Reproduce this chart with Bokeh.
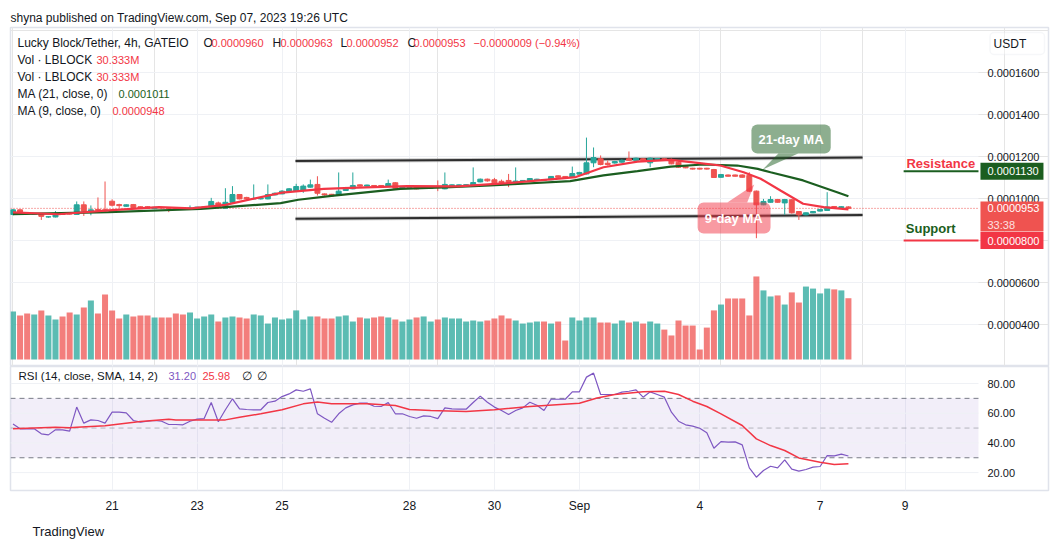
from bokeh.plotting import figure
from bokeh.layouts import column
from bokeh.models import (Range1d, FixedTicker, Label, BoxAnnotation, ColumnDataSource, Grid, Title)
from bokeh.embed import file_html
from bokeh.resources import INLINE
from bokeh.core.properties import value

SCALE = 1e-7  # prices below are stored in units of 1e-7 USDT

opens = [924, 946, 930, 925, 926, 912, 912, 926, 928, 924, 970, 940, 948, 946, 987, 971, 963, 971, 961, 961,
         952, 957, 955, 954, 953, 951, 955, 957, 959, 979, 954, 982, 1019, 1005, 998, 998, 998, 1017, 1022, 1033,
         1035, 1040, 1054, 1067, 1022, 1020, 1017, 1038, 1046, 1065, 1059, 1062, 1062, 1057, 1075, 1049, 1050, 1055, 1049, 1049,
         1057, 1046, 1060, 1060, 1060, 1057, 1079, 1092, 1089, 1082, 1086, 1067, 1081, 1084, 1086, 1090, 1089, 1108, 1105, 1100,
         1116, 1117, 1170, 1189, 1168, 1169, 1173, 1189, 1182, 1189, 1170, 1187, 1189, 1186, 1173, 1154, 1144, 1144, 1144, 1138,
         1101, 1112, 1112, 1112, 1110, 1035, 970, 982, 995, 979, 994, 938, 922, 932, 940, 943, 962, 955, 960]
highs = [950, 948, 934, 930, 928, 916, 940, 930, 931, 986, 986, 967, 1005, 1081, 996, 975, 972, 974, 963, 963,
         960, 960, 957, 957, 955, 967, 960, 962, 1003, 985, 1049, 1059, 1021, 1008, 1067, 1004, 1067, 1029, 1040, 1050,
         1070, 1067, 1090, 1106, 1024, 1022, 1124, 1055, 1124, 1067, 1066, 1064, 1063, 1090, 1078, 1057, 1055, 1057, 1056, 1056,
         1086, 1124, 1067, 1067, 1068, 1148, 1095, 1095, 1098, 1090, 1117, 1148, 1088, 1097, 1094, 1092, 1107, 1110, 1107, 1152,
         1127, 1290, 1243, 1205, 1181, 1179, 1186, 1224, 1195, 1192, 1195, 1192, 1191, 1190, 1176, 1157, 1146, 1146, 1146, 1141,
         1117, 1114, 1114, 1115, 1125, 1038, 998, 1011, 998, 998, 997, 940, 934, 940, 950, 1030, 964, 963, 963]
lows = [920, 922, 924, 922, 898, 908, 910, 922, 924, 922, 917, 920, 940, 932, 962, 955, 960, 955, 950, 950,
        950, 952, 935, 950, 949, 950, 952, 955, 957, 953, 952, 980, 996, 995, 996, 995, 996, 1015, 1020, 1031,
        1033, 1027, 1052, 1014, 1014, 1010, 1015, 1036, 1044, 1057, 1057, 1058, 1058, 1055, 1046, 1047, 1048, 1044, 1047, 1047,
        1035, 1044, 1058, 1058, 1058, 1055, 1077, 1080, 1073, 1072, 1054, 1064, 1079, 1082, 1084, 1085, 1087, 1099, 1098, 1098,
        1114, 1115, 1149, 1158, 1157, 1166, 1170, 1179, 1180, 1180, 1149, 1185, 1180, 1163, 1146, 1144, 1138, 1138, 1138, 1098,
        1099, 1104, 1104, 1099, 1030, 811, 968, 980, 980, 922, 928, 898, 920, 930, 938, 941, 957, 953, 952]
closes = [946, 925, 927, 928, 915, 913, 926, 924, 926, 970, 940, 946, 944, 942, 968, 966, 970, 957, 952, 954,
          958, 955, 953, 952, 951, 955, 959, 960, 986, 959, 982, 1019, 998, 998, 1000, 1001, 1019, 1025, 1035, 1046,
          1057, 1059, 1065, 1025, 1017, 1012, 1035, 1052, 1062, 1059, 1064, 1060, 1060, 1071, 1049, 1055, 1053, 1046, 1054, 1054,
          1052, 1067, 1065, 1065, 1066, 1076, 1092, 1084, 1075, 1075, 1067, 1083, 1086, 1095, 1092, 1087, 1105, 1101, 1100, 1119,
          1124, 1170, 1195, 1162, 1162, 1176, 1182, 1182, 1192, 1182, 1192, 1190, 1182, 1165, 1149, 1146, 1140, 1140, 1140, 1100,
          1114, 1106, 1106, 1101, 1035, 970, 986, 995, 982, 995, 932, 922, 932, 938, 948, 959, 959, 961, 953]
volumes_m = [23.7, 21.8, 22.8, 22.3, 24.3, 21.8, 19.8, 21.3, 23.3, 22.3,
             25.7, 29.2, 22.8, 32.2, 24.3, 20.3, 22.3, 21.3, 21.8, 21.8,
             20.8, 20.8, 20.8, 22.8, 22.3, 23.3, 20.3, 21.3, 22.3, 18.8,
             20.8, 21.3, 20.8, 20.3, 22.3, 21.8, 17.8, 20.8, 19.8, 20.3,
             24.3, 19.8, 21.3, 21.3, 20.3, 20.3, 21.3, 21.8, 18.8, 20.8,
             20.3, 20.8, 21.3, 20.8, 19.8, 18.8, 19.8, 20.8, 21.3, 18.8,
             19.8, 20.8, 20.3, 20.3, 18.8, 19.3, 18.8, 19.3, 20.3, 21.8,
             20.3, 19.3, 17.8, 18.3, 18.8, 18.8, 17.8, 18.8, 9.4, 20.8,
             19.3, 20.8, 20.8, 18.3, 18.3, 17.8, 19.3, 18.3, 18.8, 17.8,
             18.8, 17.8, 14.8, 11.9, 19.3, 16.8, 16.8, 4.95, 15.8, 24.3,
             27.2, 30.2, 30.2, 30.2, 21.8, 41.1, 34.2, 31.2, 31.7, 27.2,
             33.2, 28.2, 36.1, 35.1, 32.7, 35.1, 34.7, 34.2, 30.333]
rsi = [52.8, 49.5, 49.5, 49.5, 46.1, 45.4, 48.8, 48.8, 47.9, 64.1, 53.3, 55.5, 55.1, 53.3, 60.7, 60.7, 60.2, 55.1, 54.0, 54.6,
       55.1, 54.6, 52.4, 52.4, 52.2, 54.6, 56.0, 56.4, 67.2, 54.2, 62.3, 69.7, 62.9, 62.5, 62.3, 62.3, 67.2, 68.1, 71.2, 73.0,
       75.7, 74.8, 76.4, 59.6, 56.6, 53.9, 59.6, 63.6, 65.6, 66.8, 66.8, 64.7, 64.5, 67.2, 59.6, 59.6, 57.8, 56.6, 58.2, 57.8,
       56.4, 63.6, 62.9, 62.7, 62.7, 67.2, 71.5, 67.4, 64.1, 61.8, 59.1, 61.8, 63.6, 67.4, 65.4, 61.8, 69.4, 69.4, 69.4, 74.4,
       74.4, 84.3, 87.0, 72.6, 72.6, 72.6, 74.2, 74.8, 75.7, 70.8, 74.4, 72.6, 70.8, 60.7, 54.6, 52.2, 51.3, 49.9, 46.8, 36.4,
       40.9, 40.5, 40.7, 38.7, 23.2, 16.9, 21.4, 24.3, 23.2, 28.6, 22.3, 21.0, 22.1, 23.7, 24.1, 31.5, 31.3, 32.4, 31.2]
rsi_ma_idx = [0, 6, 8, 9, 13, 18, 22, 23, 26, 30, 32, 35, 38, 41, 43, 45, 48, 50, 54, 56, 59, 64, 68, 73, 80,
              82.5, 85, 89, 92, 94, 96, 98, 100, 103, 105, 107, 109, 111, 114, 116, 118]
rsi_ma = [49.5, 50.6, 50.2, 50.6, 51.5, 54.4, 56.0, 55.5, 55.5, 55.5, 57.3, 59.6, 62.3, 66.3, 67.6, 66.3, 66.3, 66.3,
          65.2, 62.5, 61.8, 61.1, 62.3, 64.5, 66.7, 70.3, 72.6, 74.4, 74.8, 72.6, 68.1, 64.5, 59.6, 51.7, 42.7, 38.2,
          34.9, 29.9, 27.0, 25.4, 26.0]
ma21_idx = [0, 13.5, 26.5, 30, 37.8, 40.3, 45.3, 54.7, 61.8, 67.4, 78.7, 83.4, 88.2, 92.9, 97.5, 102.3, 105.2,
            107, 111.6, 116.4, 118]
ma21 = [926, 935, 950, 959, 978, 994, 1014, 1046, 1054, 1062, 1083, 1110, 1130, 1152, 1162, 1157, 1141, 1125,
        1086, 1030, 1011]
ma9_idx = [0, 6.4, 13.5, 20.6, 25.2, 30, 38, 43.9, 48.7, 55.7, 62.8, 69.8, 79.5, 83.4, 88.2, 92.9, 96.7, 99.9,
           103.2, 105.6, 108.4, 111.6, 114.5, 118]
ma9 = [934, 925, 943, 959, 953, 970, 1028, 1046, 1052, 1059, 1058, 1073, 1102, 1149, 1176, 1184, 1170, 1157,
       1125, 1094, 1038, 975, 959, 948]

day_ticks = [14, 26, 38, 56, 68, 80, 97, 114, 126]
day_labels = ["21", "23", "25", "28", "30", "Sep", "4", "7", "9"]
price_ticks = [400, 600, 800, 1000, 1200, 1400, 1600]
rsi_ticks = [20, 40, 60, 80]
resistance_level = 1130
support_level = 800
last_price = 953
upper_channel_x, upper_channel_y = [39.9, 120.0], [1178.6, 1195.0]
lower_channel_x, lower_channel_y = [39.9, 120.0], [903.0, 921.0]

TEAL = "#26A69A"
RED = "#EF5350"
TVRED = "#F23645"
DKGREEN = "#1B5E20"
GRID = "#EFF1F5"
TXT = "#131722"
FONT = "Liberation Sans"
F = value(FONT)

n = len(closes)
idx = list(range(n))
colors = [TEAL if c >= o else RED for o, c in zip(opens, closes)]
src = ColumnDataSource(dict(
    x=idx,
    h=[v * SCALE for v in highs], l=[v * SCALE for v in lows],
    top=[max(o, c) * SCALE for o, c in zip(opens, closes)],
    bottom=[min(o, c) * SCALE for o, c in zip(opens, closes)],
    color=colors, vol=volumes_m))

# x: bar index; the plotting area ends at XPLOT, the price scale occupies XPLOT..X1
X0, XPLOT, X1 = -0.353, 136.37, 146.26
XLAB = 137.64          # left edge of scale labels
XTAG = 141.1           # centre of scale tags
xr = Range1d(X0, X1)

# ---------------- main pane ----------------
p = figure(width=1059, height=366, x_range=xr, y_range=Range1d(200 * SCALE, 1814.3 * SCALE),
           output_backend="svg", toolbar_location=None, x_axis_location=None, y_axis_location=None,
           min_border_left=10, min_border_right=11, min_border_top=27, min_border_bottom=0,
           background_fill_color="white", border_fill_color="white", outline_line_color="#E0E3EB",
           outline_line_width=1.5)
p.title.text = "shyna published on TradingView.com, Sep 07, 2023 19:26 UTC"
p.title.text_font = FONT
p.title.text_font_size = "12px"
p.title.text_font_style = "normal"
p.title.text_color = TXT
p.title.align = "left"
p.title.standoff = 6
p.extra_y_ranges = {"vol": Range1d(-3.46, 164.3)}
p.add_layout(Grid(dimension=0, ticker=FixedTicker(ticks=day_ticks), grid_line_color=GRID))

pt = [t * SCALE for t in price_ticks]
p.segment(x0=[X0] * len(pt), y0=pt, x1=[XPLOT] * len(pt), y1=pt, color=GRID, line_width=1)
p.text(x=[XLAB] * len(pt), y=pt, text=["%.7f" % v for v in pt], text_font=F, text_font_size="11px",
       text_color=TXT, text_align="left", text_baseline="middle")

p.vbar(x="x", width=0.85, top="vol", bottom=0, fill_color="color", line_color=None, fill_alpha=0.75,
       y_range_name="vol", source=src)

for cx, cy in [(upper_channel_x, upper_channel_y), (lower_channel_x, lower_channel_y)]:
    p.line(cx, [v * SCALE for v in cy], color="#888888", line_width=4, line_alpha=0.45)
    p.line(cx, [v * SCALE for v in cy], color="#2E2E2E", line_width=2)

p.segment(x0=[X0], y0=[last_price * SCALE], x1=[XPLOT], y1=[last_price * SCALE], color=RED,
          line_dash="1 2", line_width=1)

p.segment(x0="x", y0="l", x1="x", y1="h", color="color", line_width=1, source=src)
p.vbar(x="x", width=0.7, top="top", bottom="bottom", fill_color="color", line_color="color", source=src)

p.line(ma21_idx, [v * SCALE for v in ma21], color=DKGREEN, line_width=2.2)
p.line(ma9_idx, [v * SCALE for v in ma9], color=TVRED, line_width=2.2)

# resistance / support marks
p.line([125.8, XPLOT], [resistance_level * SCALE] * 2, color=DKGREEN, line_width=2)
p.line([125.8, XPLOT], [support_level * SCALE] * 2, color=TVRED, line_width=2)
p.text(x=[126.2], y=[1166.7 * SCALE], text=["Resistance"], text_color=TVRED, text_font=F,
       text_font_style="bold", text_font_size="13px", text_baseline="middle", text_align="left")
p.text(x=[126.1], y=[857 * SCALE], text=["Support"], text_color=DKGREEN, text_font=F,
       text_font_style="bold", text_font_size="13px", text_baseline="middle", text_align="left")

# tags on the price scale
p.rect(x=[XTAG] * 3, y=[resistance_level * SCALE, 914.3 * SCALE, support_level * SCALE],
       width=63, height=[17, 30, 17], width_units="screen", height_units="screen",
       fill_color=[DKGREEN, RED, TVRED], line_color=None)
p.text(x=[XLAB] * 4, y=[resistance_level * SCALE, last_price * SCALE, 876 * SCALE, support_level * SCALE],
       text=["0.0001130", "0.0000953", "33:38", "0.0000800"],
       text_color=["white", "white", "#FDE0E0", "white"], text_font=F, text_font_size="11px",
       text_align="left", text_baseline="middle")

# callouts
p.patch([108.1, 110.9, 105.9], [1214 * SCALE, 1214 * SCALE, 1138 * SCALE], fill_color=DKGREEN,
        fill_alpha=0.5, line_color=None)
p.add_layout(BoxAnnotation(left=104.3, right=115.5, top=1352 * SCALE, bottom=1214 * SCALE, fill_color=DKGREEN,
                           fill_alpha=0.5, line_color=None, border_radius=6))
p.patch([100.9, 103.7, 104.7], [981 * SCALE, 981 * SCALE, 1067 * SCALE], fill_color=TVRED,
        fill_alpha=0.5, line_color=None)
p.add_layout(BoxAnnotation(left=96.7, right=107.0, top=981 * SCALE, bottom=833 * SCALE, fill_color=TVRED,
                           fill_alpha=0.5, line_color=None, border_radius=6))
p.add_layout(Label(x=109.9, y=1283 * SCALE, text="21-day MA", text_color="white", text_font=FONT,
                   text_font_style="bold", text_font_size="13px", text_align="center", text_baseline="middle"))
p.add_layout(Label(x=101.8, y=907 * SCALE, text="9-day MA", text_color="white", text_font=FONT,
                   text_font_style="bold", text_font_size="13px", text_align="center", text_baseline="middle"))

# currency box
p.add_layout(BoxAnnotation(left=138.0, right=145.7, top=1790 * SCALE, bottom=1686 * SCALE, fill_color="white",
                           line_color="#E0E3EB", line_width=1.5, border_radius=4))
p.add_layout(Label(x=138.5, y=1738 * SCALE, text="USDT", text_color=TXT, text_font=FONT,
                   text_font_size="12px", text_align="left", text_baseline="middle"))


def slabel(fig, x, y, text, color=TXT, size="12px", **kw):
    fig.add_layout(Label(x=x, y=y, x_units="screen", y_units="screen", text=text, text_color=color,
                         text_font=FONT, text_font_size=size, text_align="left", text_baseline="middle", **kw))


# legend
slabel(p, 7, 324, "Lucky Block/Tether, 4h, GATEIO")
for xx, tt, cc in [(193, "O", TXT), (201, "0.0000960", TVRED), (262, "H", TXT), (270, "0.0000963", TVRED),
                   (330, "L", TXT), (336, "0.0000952", TVRED), (397, "C", TXT), (403, "0.0000953", TVRED),
                   (463, "\u22120.0000009 (\u22120.94%)", TVRED)]:
    slabel(p, xx, 324, tt, cc, "12px" if len(tt) == 1 else "11px")
slabel(p, 7, 307, "Vol \u00b7 LBLOCK")
slabel(p, 86, 307, "30.333M", TVRED, "11px")
slabel(p, 7, 290, "Vol \u00b7 LBLOCK")
slabel(p, 86, 290, "30.333M", TVRED, "11px")
slabel(p, 7, 273, "MA (21, close, 0)")
slabel(p, 108, 273, "0.0001011", DKGREEN, "11px")
slabel(p, 7, 256, "MA (9, close, 0)")
slabel(p, 102, 256, "0.0000948", TVRED, "11px")

# ---------------- RSI pane ----------------
r = figure(width=1059, height=185, x_range=xr, y_range=Range1d(7.95, 91.45),
           output_backend="svg", toolbar_location=None, y_axis_location=None,
           min_border_left=10, min_border_right=11, min_border_top=0, min_border_bottom=61,
           background_fill_color="white", border_fill_color="white", outline_line_color="#E0E3EB",
           outline_line_width=1.5)
r.grid.grid_line_color = None
r.add_layout(Grid(dimension=0, ticker=FixedTicker(ticks=day_ticks), grid_line_color=GRID))
r.segment(x0=[X0] * 4, y0=rsi_ticks, x1=[XPLOT] * 4, y1=rsi_ticks, color=GRID, line_width=1)
r.text(x=[XLAB] * 4, y=rsi_ticks, text=["%.2f" % v for v in rsi_ticks], text_font=F, text_font_size="11px",
       text_color=TXT, text_align="left", text_baseline="middle")
rx = r.xaxis[0]
rx.ticker = FixedTicker(ticks=day_ticks)
rx.major_label_overrides = {t: lab for t, lab in zip(day_ticks, day_labels)}
rx.axis_line_color = None
rx.major_tick_line_color = None
rx.minor_tick_line_color = None
rx.major_label_text_font = FONT
rx.major_label_text_color = TXT
rx.major_label_text_font_size = "12px"
rx.major_label_standoff = 2

r.add_layout(BoxAnnotation(bottom=30, top=70, left=X0, right=XPLOT, fill_color="#7E57C2", fill_alpha=0.1,
                           line_color=None, level="underlay"))
for lvl, alpha in [(70, 1.0), (50, 0.5), (30, 1.0)]:
    r.segment(x0=[X0], y0=[lvl], x1=[XPLOT], y1=[lvl], color="#787B86", line_alpha=alpha,
              line_dash="5 4", line_width=1)
r.line(idx, rsi, color="#7E57C2", line_width=1.2)
r.line(rsi_ma_idx, rsi_ma, color=TVRED, line_width=1.5)

slabel(r, 8, 115, "RSI (14, close, SMA, 14, 2)", TXT, "11.5px")
slabel(r, 158, 115, "31.20", "#7E57C2", "11px")
slabel(r, 192, 115, "25.98", TVRED, "11px")
slabel(r, 231, 115, "\u2205")
slabel(r, 246, 115, "\u2205")

r.add_layout(Title(text="TradingView", text_font=FONT, text_font_size="13px", text_font_style="normal",
                   text_color=TXT, align="left", offset=22, standoff=12), "below")

layout = column(p, r, spacing=0)
open("out.html", "w").write(file_html(layout, INLINE))
